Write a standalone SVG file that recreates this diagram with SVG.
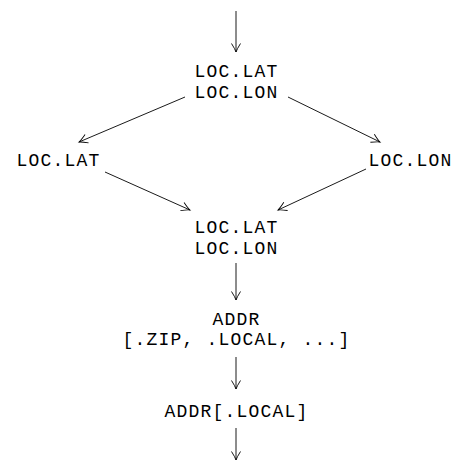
<svg xmlns="http://www.w3.org/2000/svg" width="461" height="462" viewBox="0 0 461 462">
  <style>
    text { font-family: "Liberation Mono", "DejaVu Sans Mono", monospace; font-size: 18px; letter-spacing: 1.2px; fill: #000; text-anchor: middle; }
    .edge { stroke: #000; stroke-width: 0.9; fill: none; marker-end: url(#arrow); }
  </style>
  <defs>
    <marker id="arrow" markerUnits="userSpaceOnUse" markerWidth="20" markerHeight="20" refX="0" refY="0" orient="auto" overflow="visible">
      <path d="M -8.5 -4.5 Q -3 -1 0 0 Q -3 1 -8.5 4.5" fill="none" stroke="#000" stroke-width="0.9"/>
    </marker>
  </defs>
  <rect width="461" height="462" fill="#fff"/>

  <g id="connectors">
    <line class="edge" x1="236" y1="11" x2="236" y2="52"/>
    <line class="edge" x1="185" y1="97" x2="79" y2="142"/>
    <line class="edge" x1="288" y1="97" x2="380" y2="142"/>
    <line class="edge" x1="105" y1="172" x2="190" y2="210"/>
    <line class="edge" x1="366" y1="169" x2="278" y2="210"/>
    <line class="edge" x1="236" y1="263" x2="236" y2="300"/>
    <line class="edge" x1="236" y1="357" x2="236" y2="389"/>
    <line class="edge" x1="236" y1="428" x2="236" y2="460"/>
  </g>

  <g id="node-loc-top">
    <text x="236.6" y="77">LOC.LAT</text>
    <text x="236.6" y="98">LOC.LON</text>
  </g>
  <g id="node-lat">
    <text x="58.6" y="166">LOC.LAT</text>
  </g>
  <g id="node-lon">
    <text x="410.6" y="166">LOC.LON</text>
  </g>
  <g id="node-loc-merge">
    <text x="236.6" y="233">LOC.LAT</text>
    <text x="236.6" y="254">LOC.LON</text>
  </g>
  <g id="node-addr">
    <text x="236.6" y="325">ADDR</text>
    <text x="236.6" y="345">[.ZIP, .LOCAL, ...]</text>
  </g>
  <g id="node-addr-local">
    <text x="236.6" y="417">ADDR[.LOCAL]</text>
  </g>
</svg>
